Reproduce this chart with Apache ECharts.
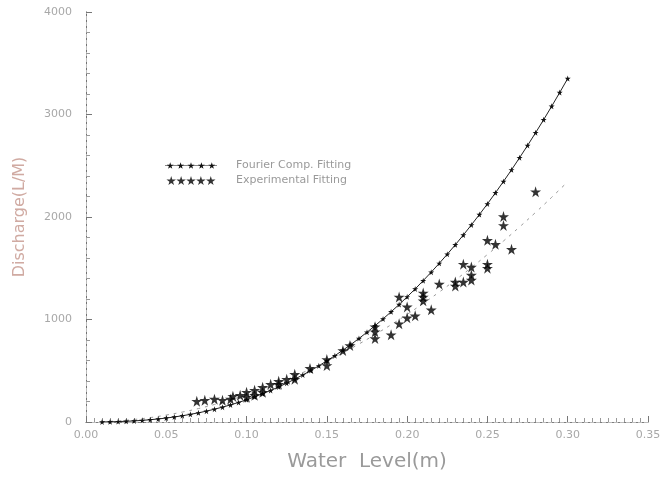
<!DOCTYPE html>
<html>
<head>
<meta charset="utf-8">
<script src="https://cdn.jsdelivr.net/npm/echarts@6/dist/echarts.min.js"></script>
<style>html,body{margin:0;padding:0;background:#fff}#c{width:665px;height:477px}</style>
</head>
<body>
<div id="c"></div>
<script>
// Fourier comp. fitting curve (water level m, discharge L/M)
const fourierH = [0.010,0.015,0.020,0.025,0.030,0.035,0.040,0.045,0.050,0.055,0.060,0.065,0.070,0.075,0.080,0.085,0.090,0.095,0.100,0.105,0.110,0.115,0.120,0.125,0.130,0.135,0.140,0.145,0.150,0.155,0.160,0.165,0.170,0.175,0.180,0.185,0.190,0.195,0.200,0.205,0.210,0.215,0.220,0.225,0.230,0.235,0.240,0.245,0.250,0.255,0.260,0.265,0.270,0.275,0.280,0.285,0.290,0.295,0.300];
const fourierQ = [0.7,1.9,4.0,6.9,10.8,15.9,22.2,29.8,38.7,49.1,60.9,74.4,89.4,106,125,145,167,191,217,246,276,308,342,379,418,459,502,548,597,647,701,756,815,876,939,1006,1075,1146,1221,1298,1379,1462,1548,1637,1729,1824,1923,2024,2128,2236,2347,2460,2578,2698,2822,2949,3080,3214,3351];
// Experimental fitting (dashed) curve
const expFitH = [0.01,0.02,0.03,0.04,0.05,0.06,0.07,0.08,0.09,0.10,0.11,0.12,0.13,0.14,0.15,0.16,0.17,0.18,0.19,0.20,0.21,0.22,0.23,0.24,0.25,0.26,0.27,0.28,0.29,0.30];
const expFitQ = [2.8,11,24.5,43,68,97,131,171,216,266,322,382,448,518,594,675,761,853,949,1050,1157,1268,1385,1507,1634,1766,1903,2045,2192,2344];
// Experimental points
const expH = [0.069,0.074,0.080,0.085,0.090,0.0915,0.096,0.100,0.100,0.105,0.105,0.110,0.110,0.115,0.120,0.120,0.125,0.130,0.130,0.1395,0.150,0.150,0.160,0.1644,0.180,0.180,0.180,0.190,0.195,0.195,0.200,0.200,0.205,0.210,0.210,0.210,0.215,0.220,0.230,0.230,0.235,0.235,0.240,0.240,0.240,0.250,0.250,0.250,0.255,0.260,0.260,0.265,0.280];
const expQ = [203,213,223,213,223,252,261,242,291,261,310,291,339,368,368,397,416,465,416,523,610,552,697,746,930,881,814,852,959,1220,1017,1123,1036,1259,1220,1182,1094,1346,1366,1327,1366,1540,1511,1433,1385,1540,1501,1772,1734,2005,1918,1685,2247];
const xTicks = [0,0.05,0.10,0.15,0.20,0.25,0.30,0.35];
const yTicks = [0,1000,2000,3000,4000];
const legendNames = ['Fourier Comp. Fitting','Experimental Fitting'];

const zip = (a,b) => a.map((v,i)=>[v,b[i]]);
const starPts = [[50,0],[61,35],[98,35],[68,57],[79,91],[50,70],[21,91],[32,57],[2,35],[39,35]];
function starPath(ox, s, oy){ return 'M' + starPts.map(p => (ox + p[0]*s).toFixed(1)+','+(oy + p[1]*s).toFixed(1)).join(' L') + ' Z'; }
const star = 'path://' + starPath(0,1,0);
let fiveStars = 'path://'; for (let k=0;k<5;k++) fiveStars += starPath(k*100,1,0) + ' ';
let fiveAst = 'path://M0,44 L500,44 L500,48 L0,48 Z '; for (let k=0;k<5;k++) fiveAst += starPath(k*100+15,0.7,14) + ' ';

const chart = echarts.init(document.getElementById('c'), null, {renderer:'canvas'});
const lblColor = '#a8a8a8';
chart.setOption({
  animation:false,
  backgroundColor:'#fff',
  grid:{left:86,right:17,top:12,bottom:52,containLabel:false},
  legend:{
    orient:'vertical', left:160, top:155, itemGap:4, itemWidth:52, itemHeight:9,
    data:[{name:legendNames[0],icon:fiveAst},{name:legendNames[1],icon:fiveStars}],
    textStyle:{color:'#9a9a9a',fontSize:11,fontFamily:'DejaVu Sans',padding:[0,0,0,14]}
  },
  xAxis:[{
    type:'value', min:xTicks[0], max:xTicks[xTicks.length-1], interval:0.05,
    name:'Water  Level(m)', nameLocation:'middle', nameGap:30,
    nameTextStyle:{color:'#9a9a9a',fontSize:20,fontFamily:'DejaVu Sans'},
    axisLine:{show:true,onZero:false,lineStyle:{color:'#555',width:1}},
    axisTick:{show:true,inside:true,length:6,lineStyle:{color:'#777'}},
    minorTick:{show:true,splitNumber:10,length:4,lineStyle:{color:'#999'}},
    splitLine:{show:false},
    axisLabel:{color:lblColor,fontSize:11,fontFamily:'DejaVu Sans',margin:8,formatter:v=>v.toFixed(2)}
  },{
    type:'value', position:'top', min:0, max:0.35,
    axisLine:{show:true,lineStyle:{color:'#bbb',type:'dashed',width:1}},
    axisTick:{show:false}, axisLabel:{show:false}, splitLine:{show:false}
  }],
  yAxis:[{
    type:'value', min:yTicks[0], max:yTicks[yTicks.length-1], interval:1000,
    name:'Discharge(L/M)', nameLocation:'middle', nameGap:58, nameRotate:90,
    nameTextStyle:{color:'#d0aaa2',fontSize:16,fontFamily:'DejaVu Sans'},
    axisLine:{show:true,lineStyle:{color:'#444',width:1}},
    axisTick:{show:true,inside:true,length:6,lineStyle:{color:'#777'}},
    minorTick:{show:true,splitNumber:5,length:4,lineStyle:{color:'#999'}},
    splitLine:{show:false},
    axisLabel:{color:lblColor,fontSize:11,fontFamily:'DejaVu Sans',margin:14,formatter:v=>String(v)}
  },{
    type:'value', position:'right', min:0, max:4000,
    axisLine:{show:true,lineStyle:{color:'#bbb',type:'dashed',width:1}},
    axisTick:{show:false}, axisLabel:{show:false}, splitLine:{show:false}
  }],
  series:[
    {name:'Experimental fit curve', type:'line', data:zip(expFitH,expFitQ), showSymbol:false, smooth:true,
     lineStyle:{color:'#9a9a9a',width:1,type:[3,5]}, z:1},
    {name:legendNames[0], type:'line', data:zip(fourierH,fourierQ), symbol:star, symbolSize:6,
     itemStyle:{color:'#111'}, lineStyle:{color:'#222',width:1}, z:3},
    {name:legendNames[1], type:'scatter', data:zip(expH,expQ), symbol:star, symbolSize:11,
     itemStyle:{color:'#000'}, z:4}
  ]
});
</script>
</body>
</html>
